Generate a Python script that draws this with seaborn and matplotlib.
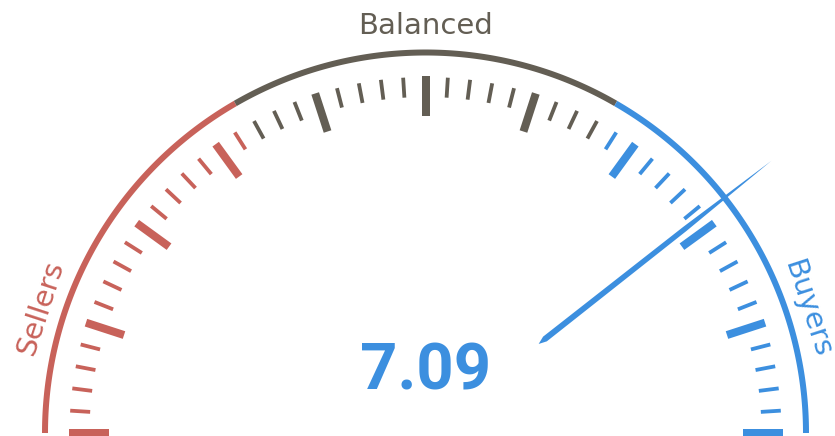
import numpy as np
import matplotlib
matplotlib.use("Agg")
import matplotlib.pyplot as plt
import seaborn as sns
import pandas as pd

# gauge data
zones = ["Sellers", "Balanced", "Buyers"]
zone_bounds = [0, 3, 6, 9]
value = 7.09
scale_min, scale_max = 0, 9
n_major = 10
n_minor = 5  # subdivisions per major interval

zone_colors = ["#c8625a", "#635e54", "#3c8fdf"]

sns.set_style("white")
plt.rcParams['font.family'] = ['DejaVu Sans']

fig = plt.figure(figsize=(8.35, 4.36), dpi=100)
ax = fig.add_axes([0, 0, 1, 1])
ax.set_xlim(0, 835)
ax.set_ylim(0, 436)
ax.set_aspect('equal')
ax.axis('off')

cx, cy = 425.5, 3.0
px = 0.72  # points per pixel


def to_angle(v):
    frac = (v - scale_min) / (scale_max - scale_min)
    return np.pi - np.pi * frac


def zone_color(v):
    for k in range(len(zones)):
        if v < zone_bounds[k + 1]:
            return zone_colors[k]
    return zone_colors[-1]


# outer arcs per zone
R_arc = 380.5
for k, name in enumerate(zones):
    t = np.linspace(to_angle(zone_bounds[k]), to_angle(zone_bounds[k + 1]), 120)
    arc = pd.DataFrame({"x": cx + R_arc * np.cos(t), "y": cy + R_arc * np.sin(t)})
    sns.lineplot(data=arc, x="x", y="y", sort=False, ax=ax, color=zone_colors[k],
                 linewidth=6 * px, solid_capstyle='butt', estimator=None)

# ticks
n_ticks = n_major * n_minor
for i in range(n_ticks + 1):
    v = scale_min + (scale_max - scale_min) * i / n_ticks
    a = to_angle(v)
    if i % n_minor == 0:
        r0, r1, lw = 317, 357, 8 * px
    else:
        r0, r1, lw = 336, 356, 3.8 * px
    ax.plot([cx + r0 * np.cos(a), cx + r1 * np.cos(a)],
            [cy + r0 * np.sin(a), cy + r1 * np.sin(a)],
            color=zone_color(v), linewidth=lw, solid_capstyle='butt')

# zone labels along the arc
label_vals = [0.9, 4.5, 8.1]
label_r = [405, 407, 401]
for name, lv, r, col in zip(zones, label_vals, label_r, zone_colors):
    a = to_angle(lv)
    rot = np.degrees(a) - 90
    ax.text(cx + r * np.cos(a), cy + r * np.sin(a), name, color=col,
            fontsize=21, rotation=rot, rotation_mode='anchor',
            ha='center', va='center')

# needle
a = to_angle(value)
u = np.array([np.cos(a), np.sin(a)])
n = np.array([-np.sin(a), np.cos(a)])
c = np.array([cx, cy])
needle = [c + 144 * u,
          c + 152 * u + 3 * n,
          c + 330 * u + 2.6 * n,
          c + 440 * u,
          c + 330 * u - 2.6 * n,
          c + 152 * u - 3 * n]
ax.add_patch(plt.Polygon(needle, closed=True, color=zone_color(value), lw=0))

# value
ax.text(cx, 436 - 372, f"{value:.2f}", color=zone_color(value), fontsize=47,
        fontweight='bold', family=['Roboto', 'DejaVu Sans'], ha='center', va='center')

fig.savefig("out.png", dpi=100)
